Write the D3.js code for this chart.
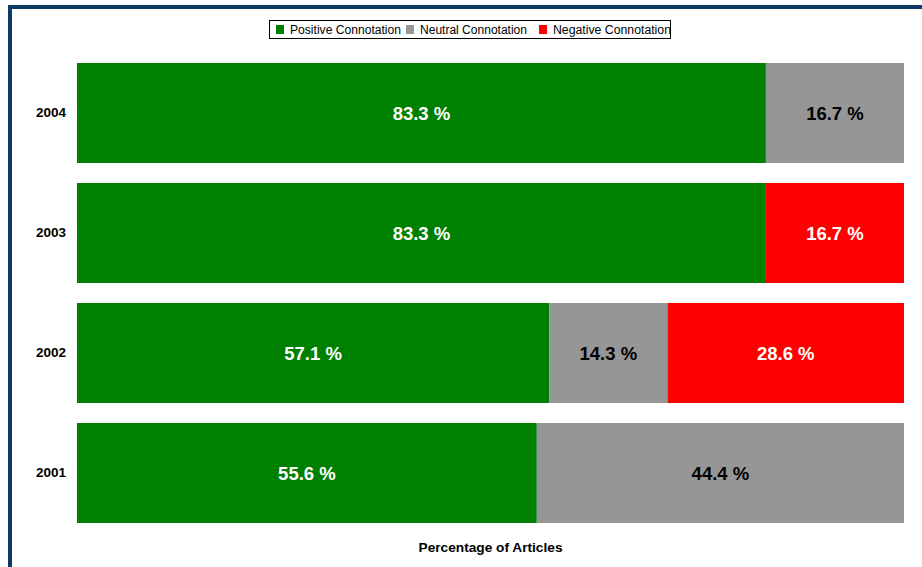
<!DOCTYPE html>
<html>
<head>
<meta charset="utf-8">
<script src="https://cdn.jsdelivr.net/npm/d3@7"></script>
<style>
  html, body { margin: 0; padding: 0; background: #fff; }
  svg { display: block; font-family: Arial, "Liberation Sans", sans-serif; }
</style>
</head>
<body>
<svg id="chart" width="922" height="567"></svg>
<script>
// Share of articles per year by connotation
const years = ["2004", "2003", "2002", "2001"];
const seriesNames = ["Positive Connotation", "Neutral Connotation", "Negative Connotation"];
const positive = [83.3, 83.3, 57.1, 55.6];
const neutral  = [16.7, 0, 14.3, 44.4];
const negative = [0, 16.7, 28.6, 0];
const seriesColors = ["#008000", "#969696", "#ff0000"];
const labelColors  = ["#ffffff", "#000000", "#ffffff"];
const axisTitle = "Percentage of Articles";

const svg = d3.select("#chart");

// Frame: dark rule along top and left
svg.append("rect").attr("x", 8).attr("y", 5).attr("width", 922 - 8).attr("height", 4).attr("fill", "#0d3b66");
svg.append("rect").attr("x", 8).attr("y", 5).attr("width", 4).attr("height", 567 - 5).attr("fill", "#0d3b66");

const plot = { left: 77, right: 904, top: 63, bottom: 523 };

const x = d3.scaleLinear().domain([0, 100]).range([plot.left, plot.right]);
const y = d3.scaleBand().domain(years).range([plot.top - 10, plot.bottom + 10]).paddingInner(1 / 6).paddingOuter(1 / 12);

const rows = years.map((yr, i) => ({ year: yr, values: [positive[i], neutral[i], negative[i]] }));
const stack = d3.stack().keys([0, 1, 2]).value((d, k) => d.values[k]);
const layers = stack(rows);

const g = svg.append("g");
layers.forEach((layer, k) => {
  const lg = g.append("g");
  lg.selectAll("rect").data(layer.filter(d => d[1] - d[0] > 0)).join("rect")
    .attr("x", d => x(d[0]))
    .attr("y", d => y(d.data.year))
    .attr("width", d => x(d[1]) - x(d[0]))
    .attr("height", y.bandwidth())
    .attr("fill", seriesColors[k]);
  lg.selectAll("text").data(layer.filter(d => d[1] - d[0] > 0)).join("text")
    .attr("x", d => (x(d[0]) + x(d[1])) / 2)
    .attr("y", d => y(d.data.year) + y.bandwidth() / 2)
    .attr("dy", "0.36em")
    .attr("text-anchor", "middle")
    .attr("font-size", 18.5)
    .attr("font-weight", "bold")
    .attr("fill", labelColors[k])
    .text(d => (d[1] - d[0]).toFixed(1) + " %");
});

// Year labels
const yAxis = d3.axisLeft(y).tickSize(0).tickPadding(11);
const ya = svg.append("g").attr("transform", `translate(${plot.left},0)`).call(yAxis);
ya.select(".domain").remove();
ya.selectAll("text").attr("font-size", 13.5).attr("font-weight", "bold").attr("fill", "#000")
  .attr("font-family", "Arial, 'Liberation Sans', sans-serif");

// Axis title
svg.append("text")
  .attr("x", (plot.left + plot.right) / 2)
  .attr("y", 552)
  .attr("text-anchor", "middle")
  .attr("font-size", 12.5)
  .attr("font-weight", "bold")
  .attr("textLength", 144)
  .attr("lengthAdjust", "spacingAndGlyphs")
  .text(axisTitle);

// Legend
const legend = svg.append("g").attr("transform", "translate(269,20)");
legend.append("rect").attr("x", 0.5).attr("y", 0.5).attr("width", 401).attr("height", 18)
  .attr("fill", "#fff").attr("stroke", "#000").attr("stroke-width", 1);
const legendX = [7, 137, 270];
const legendW = [111, 107, 118];
seriesNames.forEach((name, k) => {
  legend.append("rect").attr("x", legendX[k]).attr("y", 5).attr("width", 8).attr("height", 9).attr("fill", seriesColors[k]);
  legend.append("text").attr("x", legendX[k] + 14).attr("y", 14).attr("font-size", 12.5).attr("fill", "#000")
    .attr("textLength", legendW[k]).attr("lengthAdjust", "spacingAndGlyphs").text(name);
});
</script>
</body>
</html>
